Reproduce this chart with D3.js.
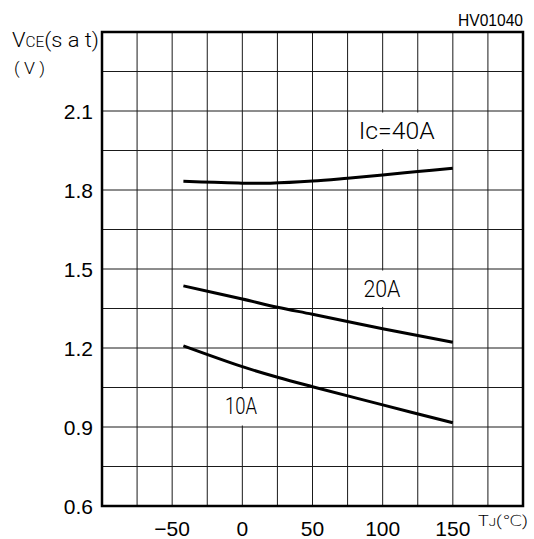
<!DOCTYPE html>
<html lang="en">
<head>
<meta charset="utf-8">
<title>VCE(sat) vs Tj</title>
<script src="https://cdn.jsdelivr.net/npm/d3@7"></script>
<style>
body { margin: 0; background: #fff; }
.tick_label { font-family: "Liberation Sans", Arial, sans-serif; font-size: 21px; fill: #000; }
.note { font-family: Roboto, "DejaVu Sans", sans-serif; font-weight: 300; fill: #000; }
.grid line { stroke: #1a1a1a; stroke-width: 1; }
.curve { fill: none; stroke: #000; stroke-width: 3; }
</style>
</head>
<body>
<script>
// axis ticks
var tempTicks = [-50, 0, 50, 100, 150];
var vceTicks = [0.6, 0.9, 1.2, 1.5, 1.8, 2.1];
// grid lines
var tempGrid = [-100, -75, -50, -25, 0, 25, 50, 75, 100, 125, 150, 175, 200];
var vceGrid = [0.6, 0.75, 0.9, 1.05, 1.2, 1.35, 1.5, 1.65, 1.8, 1.95, 2.1, 2.25, 2.4];

// curves
var temp40 = [-42, -20, 0, 20, 50, 75, 100, 125, 150];
var vce40 = [1.833, 1.829, 1.826, 1.826, 1.834, 1.845, 1.857, 1.870, 1.883];
var temp20 = [-42, 0, 25, 50, 100, 150];
var vce20 = [1.436, 1.386, 1.355, 1.328, 1.273, 1.222];
var temp10 = [-42, 0, 25, 50, 100, 150];
var vce10 = [1.208, 1.129, 1.089, 1.053, 0.984, 0.916];

// curve labels and the grid cells they blank out
var labelText = ["Ic=40A", "20A", "10A"];
var labelTemp = [110, 99.5, -1];
var labelVce = [1.994, 1.394, 0.949];
var boxTemp = [[75, 150], [75, 125], [-25, 25]];
var boxVce = [[1.95, 2.1], [1.35, 1.5], [0.9, 1.05]];
var labelWidth = [76, 37, 32];

var W = 534, H = 539;
var pLeft = 102, pRight = 523, pTop = 32, pBottom = 506;

var x = d3.scaleLinear().domain([-100, 200]).range([pLeft, pRight]);
var y = d3.scaleLinear().domain([0.6, 2.4]).range([pBottom, pTop]);

var svg = d3.select("body").append("svg")
    .attr("width", W)
    .attr("height", H);

// grid
var grid = svg.append("g").attr("class", "grid");
grid.selectAll(".gx")
    .data(tempGrid)
    .enter().append("line")
    .attr("x1", function(d) { return x(d); })
    .attr("x2", function(d) { return x(d); })
    .attr("y1", pTop)
    .attr("y2", pBottom);
grid.selectAll(".gy")
    .data(vceGrid)
    .enter().append("line")
    .attr("y1", function(d) { return y(d); })
    .attr("y2", function(d) { return y(d); })
    .attr("x1", pLeft)
    .attr("x2", pRight);

// white patches behind labels
svg.selectAll(".label_box")
    .data(labelText)
    .enter().append("rect")
    .attr("x", function(d, i) { return x(boxTemp[i][0]) + 1.5; })
    .attr("y", function(d, i) { return y(boxVce[i][1]) + 1.5; })
    .attr("width", function(d, i) { return x(boxTemp[i][1]) - x(boxTemp[i][0]) - 3; })
    .attr("height", function(d, i) { return y(boxVce[i][0]) - y(boxVce[i][1]) - 3; })
    .attr("fill", "#fff");

// frame
svg.append("rect")
    .attr("x", pLeft).attr("y", pTop)
    .attr("width", pRight - pLeft).attr("height", pBottom - pTop)
    .attr("fill", "none")
    .attr("stroke", "#000")
    .attr("stroke-width", 2.5);

// curves
var line = d3.line()
    .x(function(d) { return x(d[0]); })
    .y(function(d) { return y(d[1]); })
    .curve(d3.curveCatmullRom);

[[temp40, vce40], [temp20, vce20], [temp10, vce10]].forEach(function(s) {
    svg.append("path")
        .attr("class", "curve")
        .attr("d", line(d3.zip(s[0], s[1])));
});

// curve labels
svg.selectAll(".curve_label")
    .data(labelText)
    .enter().append("text")
    .attr("class", "note")
    .attr("x", function(d, i) { return x(labelTemp[i]); })
    .attr("y", function(d, i) { return y(labelVce[i]); })
    .attr("text-anchor", "middle")
    .attr("font-size", 23)
    .attr("textLength", function(d, i) { return labelWidth[i]; })
    .attr("lengthAdjust", "spacingAndGlyphs")
    .text(function(d) { return d; });

// tick labels
svg.selectAll(".xl")
    .data(tempTicks)
    .enter().append("text")
    .attr("class", "tick_label")
    .attr("x", function(d) { return x(d); })
    .attr("y", 536)
    .attr("text-anchor", "middle")
    .text(function(d) { return d < 0 ? "\u2212" + Math.abs(d) : d; });

svg.selectAll(".yl")
    .data(vceTicks)
    .enter().append("text")
    .attr("class", "tick_label")
    .attr("x", 93)
    .attr("y", function(d) { return y(d); })
    .attr("dy", "0.36em")
    .attr("text-anchor", "end")
    .text(function(d) { return d.toFixed(1); });

// axis titles
var yt = svg.append("text")
    .attr("class", "note")
    .attr("x", 12)
    .attr("y", 47)
    .attr("font-size", 20)
    .attr("textLength", 87)
    .attr("lengthAdjust", "spacingAndGlyphs");
yt.append("tspan").text("V");
yt.append("tspan").attr("font-size", 14).text("CE");
yt.append("tspan").text("(s a t)");

svg.append("text")
    .attr("class", "note")
    .attr("x", 14)
    .attr("y", 74)
    .attr("font-size", 16)
    .attr("textLength", 31)
    .attr("lengthAdjust", "spacingAndGlyphs")
    .text("( V )");

var xt = svg.append("text")
    .attr("class", "note")
    .attr("x", 478)
    .attr("y", 526)
    .attr("font-size", 15)
    .attr("textLength", 50)
    .attr("lengthAdjust", "spacingAndGlyphs");
xt.append("tspan").text("T");
xt.append("tspan").attr("font-size", 11).text("J");
xt.append("tspan").text("(\u2103)");

svg.append("text")
    .attr("x", 523)
    .attr("y", 26)
    .attr("text-anchor", "end")
    .attr("font-family", "Liberation Sans, Arial, sans-serif")
    .attr("font-size", 16)
    .attr("textLength", 65)
    .attr("lengthAdjust", "spacingAndGlyphs")
    .text("HV01040");
</script>
</body>
</html>
